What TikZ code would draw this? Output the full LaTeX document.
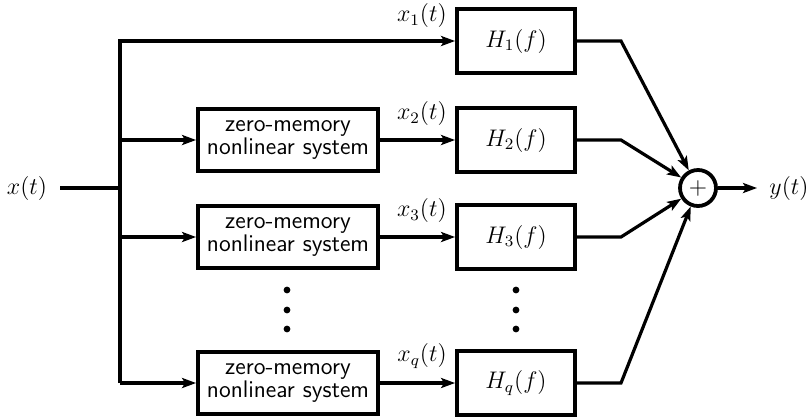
\documentclass[tikz,border=0pt]{standalone}
\usetikzlibrary{arrows.meta}
\begin{document}
\begin{tikzpicture}[x=0.5pt,y=-0.5pt,
  hbox/.style={draw, line width=1.9pt, minimum width=59pt, minimum height=32pt, inner sep=0pt, font=\fontsize{11.5}{12}\selectfont},
  zbox/.style={draw, line width=1.9pt, minimum width=90pt, minimum height=31pt, inner sep=0pt, align=center, font=\sffamily\fontsize{12}{11.8}\selectfont},
  ln/.style={line width=1.6pt},
  arr/.style={ln, -{Stealth[length=7pt,width=5pt,inset=1.5pt]}},
  lab/.style={inner sep=0pt, font=\fontsize{11.5}{12}\selectfont, anchor=south east},
  dotn/.style={circle, fill, inner sep=0pt, minimum size=3.4pt},
  sumn/.style={circle, draw, line width=1.9pt, minimum size=18pt, inner sep=0pt, font=\fontsize{12}{12}\selectfont},
  io/.style={inner sep=0pt, font=\fontsize{11.5}{12}\selectfont}
]
\useasboundingbox (0,0) rectangle (806,419);
% input
\node[io] (xin) at (27,188) {$x(t)$};
\coordinate (xs) at (60,188);
\coordinate (bj) at (120,188);
\coordinate (bb) at (120,383);
% boxes
\node[hbox] (H1) at (516,41) {$H_1(f)$};
\node[hbox] (H2) at (516,140) {$H_2(f)$};
\node[hbox] (H3) at (516,237) {$H_3(f)$};
\node[hbox] (Hq) at (516,383) {$H_q(f)$};
\node[zbox] (Z2) at (288,140) {zero-memory\\nonlinear system};
\node[zbox] (Z3) at (288,237) {zero-memory\\nonlinear system};
\node[zbox] (Zq) at (288,383) {zero-memory\\nonlinear system};
% sum and output
\node[sumn] (S) at (698,188) {$+$};
\node[io] (yout) at (789,188) {$y(t)$};
% dots
\node[dotn] (da1) at (287,290) {};
\node[dotn] (da2) at (287,310) {};
\node[dotn] (da3) at (287,329) {};
\node[dotn] (db1) at (516,290) {};
\node[dotn] (db2) at (516,310) {};
\node[dotn] (db3) at (516,329) {};
% knees
\coordinate (k1) at (621,41);
\coordinate (k2) at (621,140);
\coordinate (k3) at (621,237);
\coordinate (kq) at (621,383);
% connectors
\draw[ln] (xs) -- (bj);
\draw[arr] (bb) |- (H1.west);
\draw[arr] (bb) -- (Zq.west);
\draw[arr] (Z2.west -| bb) -- (Z2.west);
\draw[arr] (Z3.west -| bb) -- (Z3.west);
\draw[arr] (Z2.east) -- (H2.west);
\draw[arr] (Z3.east) -- (H3.west);
\draw[arr] (Zq.east) -- (Hq.west);
\draw[arr] (H1.east) -- (k1) -- (S);
\draw[arr] (H2.east) -- (k2) -- (S);
\draw[arr] (H3.east) -- (k3) -- (S);
\draw[arr] (Hq.east) -- (kq) -- (S);
\draw[arr] (S) -- ([xshift=-6pt]yout.west);
% labels
\node[lab] (l1) at ([xshift=-4pt,yshift=6.5pt]H1.west) {$x_1(t)$};
\node[lab] (l2) at ([xshift=-4pt,yshift=7pt]H2.west) {$x_2(t)$};
\node[lab] (l3) at ([xshift=-4pt,yshift=7pt]H3.west) {$x_3(t)$};
\node[lab] (lq) at ([xshift=-4pt,yshift=7pt]Hq.west) {$x_q(t)$};
\end{tikzpicture}
\end{document}
